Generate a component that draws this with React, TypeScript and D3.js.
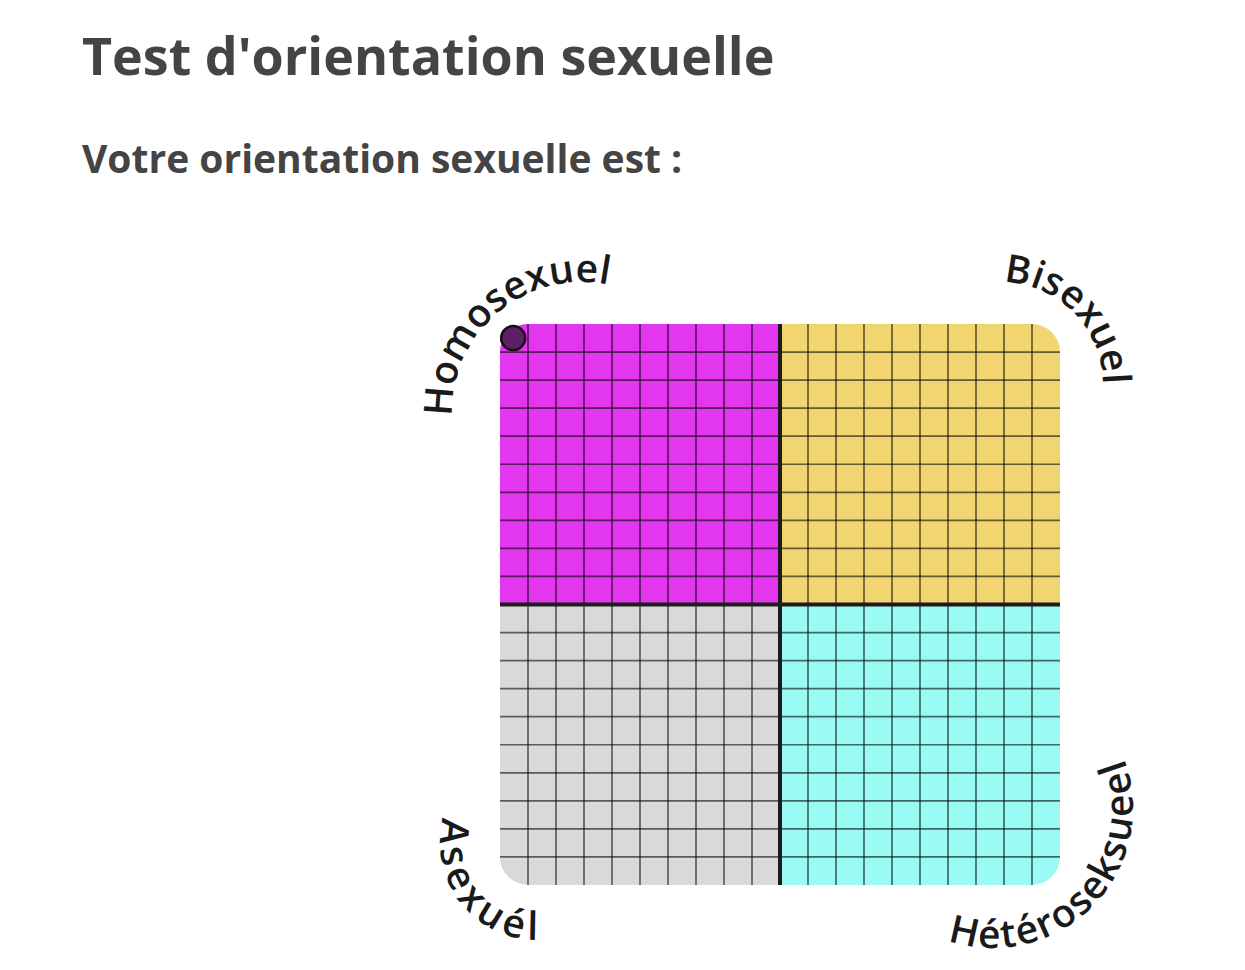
import { FC, useEffect, useRef } from 'react';
import * as d3 from 'd3';

// quadrants of the compass (x: -10..10, y: -10..10)
const quadrantNames = ['Homosexuel', 'Bisexuel', 'Asexuél', 'Hétéroseksueel'];
const quadrantColors = ['#E236EF', '#F1D571', '#D9D9D9', '#99FBF3'];
const quadrantX: [number, number][] = [[-10, 0], [0, 10], [-10, 0], [0, 10]];
const quadrantY: [number, number][] = [[0, 10], [0, 10], [-10, 0], [-10, 0]];

// grid step & result point
const gridTicks = d3.range(-9, 10, 1);
const resultX = [-9.53];
const resultY = [9.5];

const titleText = "Test d'orientation sexuelle";
const subtitleText = 'Votre orientation sexuelle est :';

const W = 1245;
const H = 970;

const App: FC = () => {
  const svgRef = useRef<SVGSVGElement>(null);

  useEffect(() => {
    if (!svgRef.current) return;
    const svg = d3.select(svgRef.current);
    svg.selectAll('*').remove();

    const font = "'Open Sans', 'Noto Sans', sans-serif";

    // Header
    svg
      .append('text')
      .attr('x', 82)
      .attr('y', 75)
      .attr('font-family', font)
      .attr('font-weight', 700)
      .attr('font-size', 52)
      .attr('fill', '#444')
      .text(titleText);

    svg
      .append('text')
      .attr('x', 82)
      .attr('y', 173)
      .attr('font-family', font)
      .attr('font-weight', 700)
      .attr('font-size', 39)
      .attr('fill', '#444')
      .text(subtitleText);

    const x = d3.scaleLinear().domain([-10, 10]).range([500, 1060]);
    const y = d3.scaleLinear().domain([-10, 10]).range([885, 324]);
    const corner = 28;

    const defs = svg.append('defs');
    defs
      .append('clipPath')
      .attr('id', 'board-clip')
      .append('rect')
      .attr('x', x(-10))
      .attr('y', y(10))
      .attr('width', x(10) - x(-10))
      .attr('height', y(-10) - y(10))
      .attr('rx', corner);

    const board = svg.append('g').attr('clip-path', 'url(#board-clip)');

    // quadrant fills
    board
      .selectAll('.quad')
      .data(quadrantNames.map((name, i) => ({ name, i })))
      .enter()
      .append('rect')
      .attr('class', 'quad')
      .attr('x', (d) => x(quadrantX[d.i][0]))
      .attr('y', (d) => y(quadrantY[d.i][1]))
      .attr('width', (d) => x(quadrantX[d.i][1]) - x(quadrantX[d.i][0]))
      .attr('height', (d) => y(quadrantY[d.i][0]) - y(quadrantY[d.i][1]))
      .attr('fill', (d) => quadrantColors[d.i]);

    // thin grid
    const thin = gridTicks.filter((t) => t !== 0);
    board
      .selectAll('.vline')
      .data(thin)
      .enter()
      .append('line')
      .attr('x1', (d) => x(d))
      .attr('x2', (d) => x(d))
      .attr('y1', y(10))
      .attr('y2', y(-10))
      .attr('stroke', 'rgba(0,0,0,0.58)')
      .attr('stroke-width', 1.7);
    board
      .selectAll('.hline')
      .data(thin)
      .enter()
      .append('line')
      .attr('y1', (d) => y(d))
      .attr('y2', (d) => y(d))
      .attr('x1', x(-10))
      .attr('x2', x(10))
      .attr('stroke', 'rgba(0,0,0,0.58)')
      .attr('stroke-width', 1.7);

    // axes through the middle
    board
      .append('line')
      .attr('x1', x(0))
      .attr('x2', x(0))
      .attr('y1', y(10))
      .attr('y2', y(-10))
      .attr('stroke', '#1c1c1c')
      .attr('stroke-width', 4);
    board
      .append('line')
      .attr('y1', y(0))
      .attr('y2', y(0))
      .attr('x1', x(-10))
      .attr('x2', x(10))
      .attr('stroke', '#1c1c1c')
      .attr('stroke-width', 4);

    // result dot
    svg
      .selectAll('.dot')
      .data(resultX.map((v, i) => [v, resultY[i]]))
      .enter()
      .append('circle')
      .attr('cx', (d) => x(d[0]))
      .attr('cy', (d) => y(d[1]))
      .attr('r', 12)
      .attr('fill', '#5E1F68')
      .attr('stroke', '#111')
      .attr('stroke-width', 2.5);

    // curved corner labels: centre, radius, start/end angle (deg), direction
    const labelArcs = [
      { cx: 582, cy: 412, r: 130, a0: 178, a1: 280, ccw: false },
      { cx: 1000, cy: 385, r: 103, a0: -88, a1: -3, ccw: false },
      { cx: 537, cy: 843, r: 97, a0: 195, a1: 88, ccw: true },
      { cx: 993, cy: 808, r: 140, a0: 109, a1: -21, ccw: true },
    ];
    const rad = Math.PI / 180;

    labelArcs.forEach((a, i) => {
      const p = d3.path();
      p.moveTo(a.cx + a.r * Math.cos(a.a0 * rad), a.cy + a.r * Math.sin(a.a0 * rad));
      p.arc(a.cx, a.cy, a.r, a.a0 * rad, a.a1 * rad, a.ccw);
      const pathEl = defs
        .append('path')
        .attr('id', `label-arc-${i}`)
        .attr('d', p.toString());

      const text = svg
        .append('text')
        .attr('font-family', font)
        .attr('font-size', 39)
        .attr('font-weight', 600)
        .attr('fill', '#1a1a1a');
      text
        .append('textPath')
        .attr('href', `#label-arc-${i}`)
        .attr('startOffset', 0)
        .text(quadrantNames[i]);

      // spread letters to fill the arc
      const node = text.node() as SVGTextElement;
      const len = (pathEl.node() as SVGPathElement).getTotalLength();
      const tw = node.getComputedTextLength();
      const n = quadrantNames[i].length;
      const spacing = Math.max(0, (len - tw) / (n - 0.5));
      text.attr('letter-spacing', spacing);
    });
  }, []);

  return (
    <div style={{ position: 'absolute', left: 0, top: 0 }}>
      <svg ref={svgRef} width={W} height={H} />
    </div>
  );
};

export default App;
